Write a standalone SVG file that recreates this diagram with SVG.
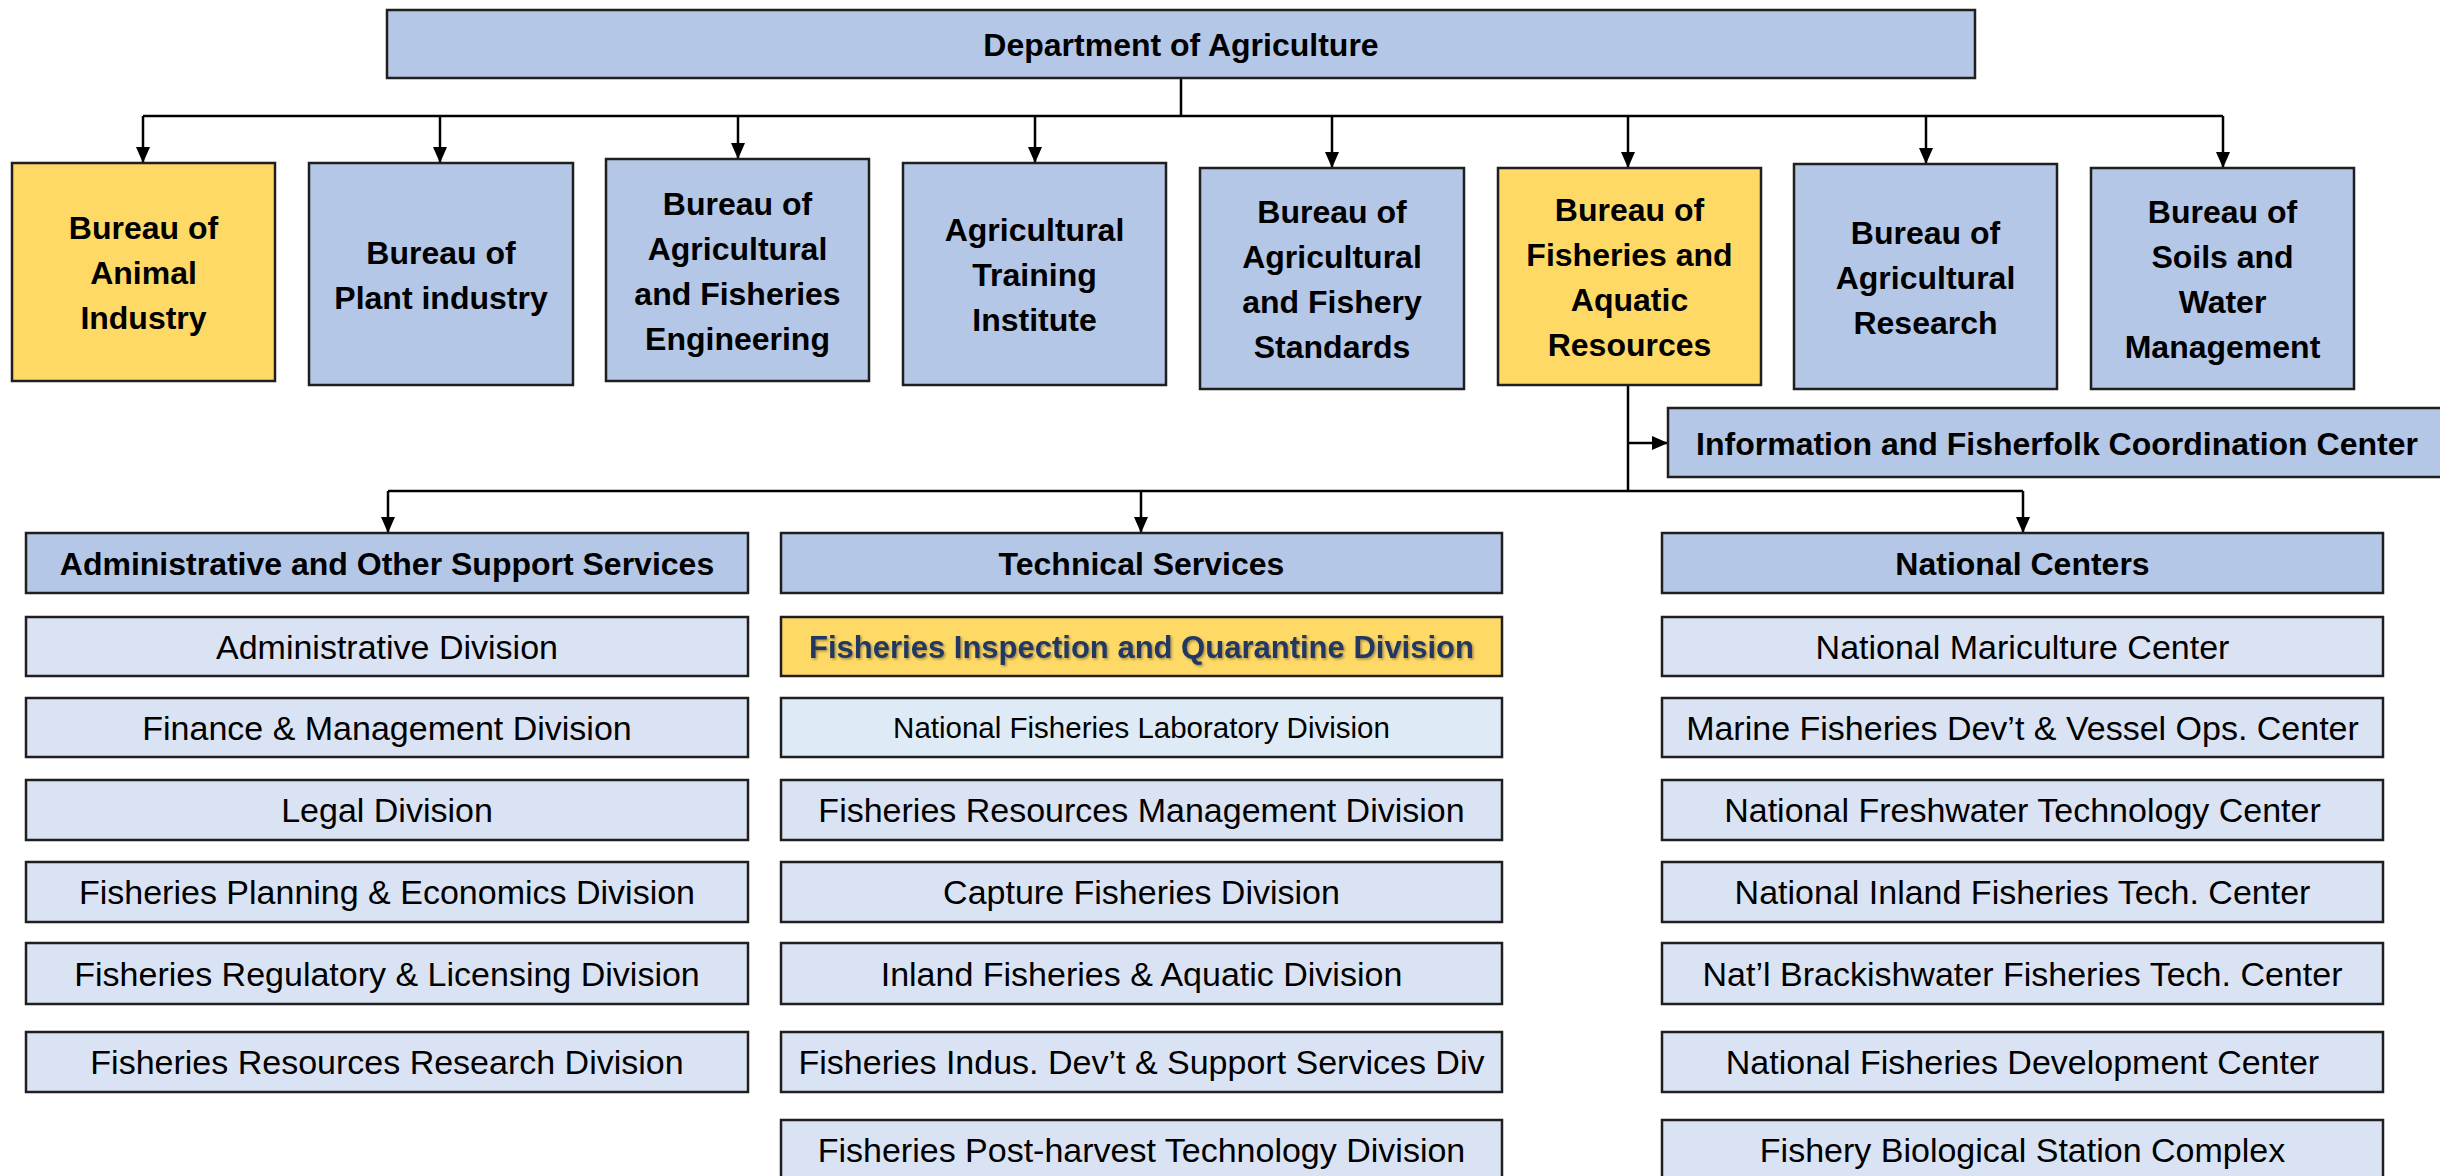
<svg xmlns="http://www.w3.org/2000/svg" width="2440" height="1176" viewBox="0 0 2440 1176">
<defs>
<style>
.b{fill:#B4C7E7;stroke:#1f1f1f;stroke-width:2.5}
.y{fill:#FFD966;stroke:#1f1f1f;stroke-width:2.5}
.l{fill:#DAE3F3;stroke:#1f1f1f;stroke-width:2.5}
.l2{fill:#DEEBF7;stroke:#1f1f1f;stroke-width:2.5}
.t{font-family:"Liberation Sans",Arial,sans-serif;font-weight:bold;font-size:32px;fill:#000;text-anchor:middle}
.r{font-family:"Liberation Sans",Arial,sans-serif;font-size:34px;fill:#000;text-anchor:middle}
.g{font-family:"Liberation Sans",Arial,sans-serif;font-size:29.5px;fill:#000;text-anchor:middle}
.q{font-family:"Liberation Sans",Arial,sans-serif;font-weight:bold;font-size:31px;fill:#203864;text-anchor:middle}
.c{fill:none;stroke:#000;stroke-width:2.5}
</style>
<marker id="ah" markerUnits="userSpaceOnUse" markerWidth="16" markerHeight="16" viewBox="0 0 16 16" refX="16" refY="8" orient="auto">
<path d="M0,1 L16,8 L0,15 Z" fill="#000"/>
</marker>
<filter id="sh" x="-5%" y="-30%" width="110%" height="160%">
<feDropShadow dx="1.5" dy="1.5" stdDeviation="0.8" flood-color="#000" flood-opacity="0.35"/>
</filter>
</defs>
<rect width="2440" height="1176" fill="#fff"/>

<g id="connectors">
<path class="c" d="M1181,78 V116"/>
<path class="c" d="M143,116 H2223"/>
<path class="c" d="M143,116 V163" marker-end="url(#ah)"/>
<path class="c" d="M440,116 V163" marker-end="url(#ah)"/>
<path class="c" d="M738,116 V159" marker-end="url(#ah)"/>
<path class="c" d="M1035,116 V163" marker-end="url(#ah)"/>
<path class="c" d="M1332,116 V168" marker-end="url(#ah)"/>
<path class="c" d="M1628,116 V168" marker-end="url(#ah)"/>
<path class="c" d="M1926,116 V164" marker-end="url(#ah)"/>
<path class="c" d="M2223,116 V168" marker-end="url(#ah)"/>
<path class="c" d="M1628,385 V491"/>
<path class="c" d="M1628,443 H1668" marker-end="url(#ah)"/>
<path class="c" d="M388,491 H2023"/>
<path class="c" d="M388,491 V533" marker-end="url(#ah)"/>
<path class="c" d="M1141,491 V533" marker-end="url(#ah)"/>
<path class="c" d="M2023,491 V533" marker-end="url(#ah)"/>
</g>

<g id="dept"><rect class="b" x="387" y="10" width="1588" height="68"/><text class="t" x="1181" y="56">Department of Agriculture</text></g>

<g id="bai"><rect class="y" x="12" y="163" width="263" height="218"/><text class="t" x="143.5"><tspan x="143.5" y="239">Bureau of</tspan><tspan x="143.5" y="284">Animal</tspan><tspan x="143.5" y="329">Industry</tspan></text></g>
<g id="bpi"><rect class="b" x="309" y="163" width="264" height="222"/><text class="t"><tspan x="441" y="263.5">Bureau of</tspan><tspan x="441" y="308.5">Plant industry</tspan></text></g>
<g id="bafe"><rect class="b" x="606" y="159" width="263" height="222"/><text class="t"><tspan x="737.5" y="214.5">Bureau of</tspan><tspan x="737.5" y="259.5">Agricultural</tspan><tspan x="737.5" y="304.5">and Fisheries</tspan><tspan x="737.5" y="349.5">Engineering</tspan></text></g>
<g id="ati"><rect class="b" x="903" y="163" width="263" height="222"/><text class="t"><tspan x="1034.5" y="241">Agricultural</tspan><tspan x="1034.5" y="286">Training</tspan><tspan x="1034.5" y="331">Institute</tspan></text></g>
<g id="bafs"><rect class="b" x="1200" y="168" width="264" height="221"/><text class="t"><tspan x="1332" y="223">Bureau of</tspan><tspan x="1332" y="268">Agricultural</tspan><tspan x="1332" y="313">and Fishery</tspan><tspan x="1332" y="358">Standards</tspan></text></g>
<g id="bfar"><rect class="y" x="1498" y="168" width="263" height="217"/><text class="t"><tspan x="1629.5" y="221">Bureau of</tspan><tspan x="1629.5" y="266">Fisheries and</tspan><tspan x="1629.5" y="311">Aquatic</tspan><tspan x="1629.5" y="356">Resources</tspan></text></g>
<g id="bar"><rect class="b" x="1794" y="164" width="263" height="225"/><text class="t"><tspan x="1925.5" y="243.5">Bureau of</tspan><tspan x="1925.5" y="288.5">Agricultural</tspan><tspan x="1925.5" y="333.5">Research</tspan></text></g>
<g id="bswm"><rect class="b" x="2091" y="168" width="263" height="221"/><text class="t"><tspan x="2222.5" y="223">Bureau of</tspan><tspan x="2222.5" y="268">Soils and</tspan><tspan x="2222.5" y="313">Water</tspan><tspan x="2222.5" y="358">Management</tspan></text></g>

<g id="ifcc"><rect class="b" x="1668" y="408" width="780" height="69"/><text class="t" x="2057" y="455">Information and Fisherfolk Coordination Center</text></g>

<g id="admin-head"><rect class="b" x="26" y="533" width="722" height="60"/><text class="t" x="387" y="575">Administrative and Other Support Services</text></g>
<g id="admin-1"><rect class="l" x="26" y="617" width="722" height="59"/><text class="r" x="387" y="659">Administrative Division</text></g>
<g id="admin-2"><rect class="l" x="26" y="698" width="722" height="59"/><text class="r" x="387" y="740">Finance &amp; Management Division</text></g>
<g id="admin-3"><rect class="l" x="26" y="780" width="722" height="60"/><text class="r" x="387" y="822">Legal Division</text></g>
<g id="admin-4"><rect class="l" x="26" y="862" width="722" height="60"/><text class="r" x="387" y="904">Fisheries Planning &amp; Economics Division</text></g>
<g id="admin-5"><rect class="l" x="26" y="943" width="722" height="61"/><text class="r" x="387" y="986">Fisheries Regulatory &amp; Licensing Division</text></g>
<g id="admin-6"><rect class="l" x="26" y="1032" width="722" height="60"/><text class="r" x="387" y="1074">Fisheries Resources Research Division</text></g>

<g id="tech-head"><rect class="b" x="781" y="533" width="721" height="60"/><text class="t" x="1141.5" y="575">Technical Services</text></g>
<g id="tech-1"><rect class="y" x="781" y="617" width="721" height="59"/><text class="q" x="1141.5" y="658" filter="url(#sh)">Fisheries Inspection and Quarantine Division</text></g>
<g id="tech-2"><rect class="l2" x="781" y="698" width="721" height="59"/><text class="g" x="1141.5" y="738">National Fisheries Laboratory Division</text></g>
<g id="tech-3"><rect class="l" x="781" y="780" width="721" height="60"/><text class="r" x="1141.5" y="822">Fisheries Resources Management Division</text></g>
<g id="tech-4"><rect class="l" x="781" y="862" width="721" height="60"/><text class="r" x="1141.5" y="904">Capture Fisheries Division</text></g>
<g id="tech-5"><rect class="l" x="781" y="943" width="721" height="61"/><text class="r" x="1141.5" y="986">Inland Fisheries &amp; Aquatic Division</text></g>
<g id="tech-6"><rect class="l" x="781" y="1032" width="721" height="60"/><text class="r" x="1141.5" y="1074">Fisheries Indus. Dev’t &amp; Support Services Div</text></g>
<g id="tech-7"><rect class="l" x="781" y="1120" width="721" height="62"/><text class="r" x="1141.5" y="1162">Fisheries Post-harvest Technology Division</text></g>

<g id="nc-head"><rect class="b" x="1662" y="533" width="721" height="60"/><text class="t" x="2022.5" y="575">National Centers</text></g>
<g id="nc-1"><rect class="l" x="1662" y="617" width="721" height="59"/><text class="r" x="2022.5" y="659">National Mariculture Center</text></g>
<g id="nc-2"><rect class="l" x="1662" y="698" width="721" height="59"/><text class="r" x="2022.5" y="740">Marine Fisheries Dev’t &amp; Vessel Ops. Center</text></g>
<g id="nc-3"><rect class="l" x="1662" y="780" width="721" height="60"/><text class="r" x="2022.5" y="822">National Freshwater Technology Center</text></g>
<g id="nc-4"><rect class="l" x="1662" y="862" width="721" height="60"/><text class="r" x="2022.5" y="904">National Inland Fisheries Tech. Center</text></g>
<g id="nc-5"><rect class="l" x="1662" y="943" width="721" height="61"/><text class="r" x="2022.5" y="986">Nat’l Brackishwater Fisheries Tech. Center</text></g>
<g id="nc-6"><rect class="l" x="1662" y="1032" width="721" height="60"/><text class="r" x="2022.5" y="1074">National Fisheries Development Center</text></g>
<g id="nc-7"><rect class="l" x="1662" y="1120" width="721" height="62"/><text class="r" x="2022.5" y="1162">Fishery Biological Station Complex</text></g>
</svg>
